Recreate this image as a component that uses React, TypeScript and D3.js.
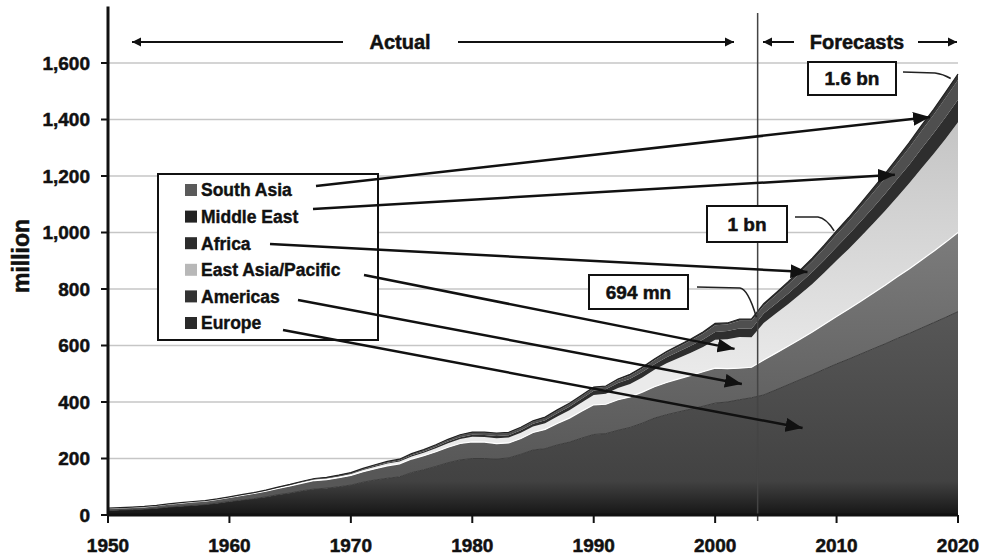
import React from 'react';
import * as d3 from 'd3';

// International tourist arrivals by region, million (1950-2003 actual, 2004-2020 forecast)
const START_YEAR = 1950;
const FORECAST_FROM = 2003.5;

const europe = [
  16, 18, 19, 21, 24, 28, 31, 34, 37, 42,
  48, 53, 58, 64, 72, 78, 86, 92, 95, 100,
  106, 116, 124, 130, 135, 150, 160, 172, 185, 195,
  200, 200, 198, 202, 215, 230, 235, 248, 258, 272,
  285, 288, 300, 310, 325, 343, 355, 365, 375, 385,
  396, 400, 408, 415,
  425, 443, 461, 479, 497, 516, 535, 552, 570, 588, 606, 625, 643, 662, 681, 700, 720,
];
const americas = [
  7, 7, 8, 8, 9, 10, 11, 12, 12, 13,
  14, 16, 18, 20, 22, 25, 27, 30, 30, 32,
  34, 37, 40, 44, 46, 48, 50, 52, 55, 58,
  59, 58, 55, 53, 56, 62, 68, 76, 85, 95,
  105, 104, 108, 108, 110, 111, 114, 117, 119, 122,
  124, 118, 112, 108,
  124, 130, 136, 143, 151, 159, 168, 177, 187, 197, 207, 218, 229, 241, 253, 266, 280,
];
const eastAsiaPacific = [
  0.2, 0.3, 0.3, 0.4, 0.4, 0.5, 0.6, 0.6, 0.7, 0.7,
  0.8, 1, 1.2, 1.5, 2, 2.5, 3, 3.5, 4, 4.5,
  5, 6, 7, 8, 8, 9, 10, 12, 14, 16,
  18, 18, 19, 19, 20, 21, 22, 25, 28, 31,
  35, 37, 42, 46, 52, 60, 68, 74, 80, 88,
  100, 104, 110, 106,
  131, 140, 149, 159, 170, 183, 198, 213, 229, 246, 264, 283, 303, 324, 345, 367, 390,
];
const africa = [
  0.5, 0.5, 0.5, 0.6, 0.6, 0.6, 0.7, 0.7, 0.7, 0.8,
  0.8, 0.9, 1, 1.1, 1.3, 1.5, 1.7, 1.8, 2, 2.2,
  2.4, 2.7, 3, 3.3, 3.7, 4.5, 5, 5.5, 6, 6.5,
  7.2, 7.5, 7.8, 8.2, 9, 9.7, 10.5, 11.5, 12.5, 13.8,
  15, 16, 17, 18, 19, 20, 21.5, 23, 25, 26.5,
  28, 29, 30, 30,
  33, 35, 37, 40, 42, 45, 48, 51, 54, 57, 60, 63, 66, 70, 73, 77, 80,
];
const middleEast = [
  0.2, 0.2, 0.2, 0.3, 0.3, 0.3, 0.4, 0.4, 0.5, 0.5,
  0.6, 0.7, 0.8, 0.9, 1, 1.1, 1.2, 1.3, 1.5, 1.7,
  1.9, 2.2, 2.6, 3, 3.4, 4, 4.5, 5.2, 5.8, 6.5,
  7.1, 7.3, 7.6, 7.8, 7.9, 8, 8.4, 8.8, 9, 9.3,
  9.6, 8.6, 11, 12, 13, 14, 15.5, 17, 18.5, 20.5,
  24, 23, 28, 29,
  28, 30, 33, 36, 38, 41, 44, 46, 49, 52, 55, 57, 60, 63, 65, 68, 70,
];
const southAsia = [
  0.1, 0.1, 0.1, 0.1, 0.1, 0.1, 0.1, 0.1, 0.2, 0.2,
  0.2, 0.3, 0.3, 0.3, 0.4, 0.4, 0.5, 0.6, 0.7, 0.8,
  0.9, 1, 1.2, 1.4, 1.5, 1.7, 1.8, 2, 2.1, 2.2,
  2.2, 2.3, 2.3, 2.4, 2.5, 2.6, 2.7, 2.8, 3, 3.1,
  3.2, 3.1, 3.5, 3.8, 4, 4.2, 4.5, 5, 5.2, 5.7,
  6.1, 5.8, 5.8, 6,
  7, 8, 9, 10, 11, 12, 13, 14, 15, 16, 16, 17, 18, 19, 19, 20, 21,
];

const regionKeys = ['europe', 'americas', 'eastAsiaPacific', 'africa', 'middleEast', 'southAsia'];
const regionSeries: Record<string, number[]> = { europe, americas, eastAsiaPacific, africa, middleEast, southAsia };

const yTicks = [0, 200, 400, 600, 800, 1000, 1200, 1400, 1600];
const xTicks = [1950, 1960, 1970, 1980, 1990, 2000, 2010, 2020];

// Legend rows, top to bottom, with the point each pointer arrow lands on (year, million)
const legendItems = [
  { key: 'southAsia', label: 'South Asia', swatch: '#5a5a5a', start: [316, 186], tip: [2017.7, 1409] },
  { key: 'middleEast', label: 'Middle East', swatch: '#232323', start: [313, 209], tip: [2014.8, 1204] },
  { key: 'africa', label: 'Africa', swatch: '#2c2c2c', start: [270, 244], tip: [2007.6, 860] },
  { key: 'eastAsiaPacific', label: 'East Asia/Pacific', swatch: '#b8b8b8', start: [364, 275], tip: [2001.6, 588] },
  { key: 'americas', label: 'Americas', swatch: '#333333', start: [298, 300], tip: [2002.2, 464] },
  { key: 'europe', label: 'Europe', swatch: '#2a2a2a', start: [283, 330], tip: [2007.2, 308] },
];

// Callout boxes for the totals
const callouts = [
  { text: '694 mn', box: [589, 275, 99, 34], path: [[697, 287], [740, 288]], target: [2003.4, 700] },
  { text: '1 bn', box: [707, 206, 80, 36], path: [[795, 217], [818, 217]], target: [2009.8, 1006] },
  { text: '1.6 bn', box: [808, 62, 88, 33], path: [[903, 72], [935, 73]], target: [2019.4, 1545] },
];

const FONT = '"Liberation Sans", Arial, Helvetica, sans-serif';
// heavier type: bold face plus a thin outline
const heavy = { fontWeight: 'bold' as const, fill: '#111', stroke: '#111', strokeWidth: 0.5 };

export default function App() {
  const width = 988;
  const height = 559;

  const x = d3.scaleLinear().domain([1950, 2020]).range([108, 958]);
  const y = d3.scaleLinear().domain([0, 1800]).range([515, 6.5]);

  const rows = europe.map((_, i) => {
    const row: any = { year: START_YEAR + i };
    regionKeys.forEach((k) => (row[k] = regionSeries[k][i]));
    return row;
  });

  const stacked = d3.stack<any>().keys(regionKeys)(rows);
  const area = d3
    .area<any>()
    .x((d) => x(d.data.year))
    .y0((d) => y(d[0]))
    .y1((d) => y(d[1]));
  const topLine = d3
    .line<any>()
    .x((d) => x(d.data.year))
    .y((d) => y(d[1]));

  const fills: Record<string, string> = {
    europe: 'url(#gEurope)',
    americas: 'url(#gAmericas)',
    eastAsiaPacific: 'url(#gEap)',
    africa: '#2e2e2e',
    middleEast: '#4f4f4f',
    southAsia: '#363636',
  };

  const fmt = d3.format(',');
  const xDiv = x(FORECAST_FROM);
  const arrowY = 42;

  return (
    <svg
      width={width}
      height={height}
      style={{ position: 'absolute', left: 0, top: 0, background: '#fff' }}
      fontFamily={FONT}
    >
      <defs>
        <linearGradient id="gEurope" gradientUnits="userSpaceOnUse" x1="0" y1={y(800)} x2="0" y2={y(0)}>
          <stop offset="0" stopColor="#5a5a5a" />
          <stop offset="0.85" stopColor="#424242" />
          <stop offset="1" stopColor="#161616" />
        </linearGradient>
        <linearGradient id="gAmericas" gradientUnits="userSpaceOnUse" x1="0" y1={y(1000)} x2="0" y2={y(150)}>
          <stop offset="0" stopColor="#7c7c7c" />
          <stop offset="1" stopColor="#575757" />
        </linearGradient>
        <linearGradient id="gEap" gradientUnits="userSpaceOnUse" x1="0" y1={y(1400)} x2="0" y2={y(500)}>
          <stop offset="0" stopColor="#c4c4c4" />
          <stop offset="1" stopColor="#eaeaea" />
        </linearGradient>
        <marker id="headBig" markerUnits="userSpaceOnUse" markerWidth="18" markerHeight="14" refX="17" refY="7" orient="auto">
          <path d="M0,0 L17,7 L0,14 Z" fill="#111" />
        </marker>
        <marker id="headSmall" markerUnits="userSpaceOnUse" markerWidth="10" markerHeight="10" refX="9" refY="5" orient="auto">
          <path d="M0,0.5 L9,5 L0,9.5 Z" fill="#111" />
        </marker>
      </defs>

      {/* grid */}
      {yTicks
        .filter((t) => t > 0)
        .map((t) => (
          <line key={t} x1={x(1950)} x2={x(2020)} y1={y(t)} y2={y(t)} stroke="#c6c6c6" strokeWidth={1.5} />
        ))}

      {/* stacked regions */}
      {stacked.map((s) => (
        <path key={s.key} d={area(s) || ''} fill={fills[s.key as string]} />
      ))}
      <path d={topLine(stacked[0]) || ''} fill="none" stroke="#3c3c3c" strokeWidth={1} />
      <path d={topLine(stacked[1]) || ''} fill="none" stroke="#ffffff" strokeWidth={1.2} />
      <path d={topLine(stacked[5]) || ''} fill="none" stroke="#222" strokeWidth={1.2} />

      {/* actual / forecast divider */}
      <line x1={xDiv} x2={xDiv} y1={13} y2={521} stroke="#444" strokeWidth={1.5} />

      {/* axes */}
      <line x1={x(1950)} x2={x(1950)} y1={y(1800)} y2={y(0) + 1} stroke="#111" strokeWidth={3} />
      <line x1={x(1950) - 1} x2={x(2020)} y1={y(0)} y2={y(0)} stroke="#111" strokeWidth={3} />
      {yTicks.map((t) => (
        <g key={t}>
          <line x1={x(1950) - 7} x2={x(1950)} y1={y(t)} y2={y(t)} stroke="#111" strokeWidth={2} />
          <text x={90} y={y(t)} dy="0.36em" textAnchor="end" fontSize={19} {...heavy}>
            {fmt(t)}
          </text>
        </g>
      ))}
      {xTicks.map((t) => (
        <g key={t}>
          <line x1={x(t)} x2={x(t)} y1={y(0)} y2={y(0) + 8} stroke="#111" strokeWidth={2} />
          <text x={x(t)} y={552} textAnchor="middle" fontSize={19} {...heavy}>
            {t}
          </text>
        </g>
      ))}
      <text transform={`translate(29,256) rotate(-90)`} textAnchor="middle" fontSize={23} {...heavy}>
        million
      </text>

      {/* period labels */}
      <line x1={343} x2={132} y1={arrowY} y2={arrowY} stroke="#111" strokeWidth={2} markerEnd="url(#headSmall)" />
      <text x={400} y={arrowY + 7} textAnchor="middle" fontSize={20} {...heavy}>
        Actual
      </text>
      <line x1={458} x2={734} y1={arrowY} y2={arrowY} stroke="#111" strokeWidth={2} markerEnd="url(#headSmall)" />
      <line x1={794} x2={763} y1={arrowY} y2={arrowY} stroke="#111" strokeWidth={2} markerEnd="url(#headSmall)" />
      <text x={857} y={arrowY + 7} textAnchor="middle" fontSize={20} {...heavy}>
        Forecasts
      </text>
      <line x1={918} x2={957} y1={arrowY} y2={arrowY} stroke="#111" strokeWidth={2} markerEnd="url(#headSmall)" />

      {/* legend */}
      <rect x={158} y={174} width={220} height={166} fill="#fff" stroke="#111" strokeWidth={2} />
      {legendItems.map((item, i) => {
        const cy = 190 + i * 26.6;
        return (
          <g key={item.key}>
            <rect x={185} y={cy - 6} width={12} height={12} fill={item.swatch} />
            <text x={201} y={cy} dy="0.36em" fontSize={17.5} {...heavy} strokeWidth={0.4}>
              {item.label}
            </text>
          </g>
        );
      })}
      {legendItems.map((item) => (
        <line
          key={`a-${item.key}`}
          x1={item.start[0]}
          y1={item.start[1]}
          x2={x(item.tip[0])}
          y2={y(item.tip[1])}
          stroke="#111"
          strokeWidth={2.5}
          markerEnd="url(#headBig)"
        />
      ))}

      {/* total callouts */}
      {callouts.map((c) => {
        const pts = [...c.path, [x(c.target[0]), y(c.target[1])]];
        const d = `M${pts[0][0]},${pts[0][1]} L${pts[1][0]},${pts[1][1]} Q${pts[1][0] + 8},${pts[1][1] + 1} ${pts[2][0]},${pts[2][1]}`;
        return (
          <g key={c.text}>
            <rect x={c.box[0]} y={c.box[1]} width={c.box[2]} height={c.box[3]} fill="#fff" stroke="#111" strokeWidth={2} />
            <text
              x={c.box[0] + c.box[2] / 2}
              y={c.box[1] + c.box[3] / 2}
              dy="0.36em"
              textAnchor="middle"
              fontSize={19}
              {...heavy}
            >
              {c.text}
            </text>
            <path d={d} fill="none" stroke="#222" strokeWidth={1.6} />
          </g>
        );
      })}
    </svg>
  );
}
